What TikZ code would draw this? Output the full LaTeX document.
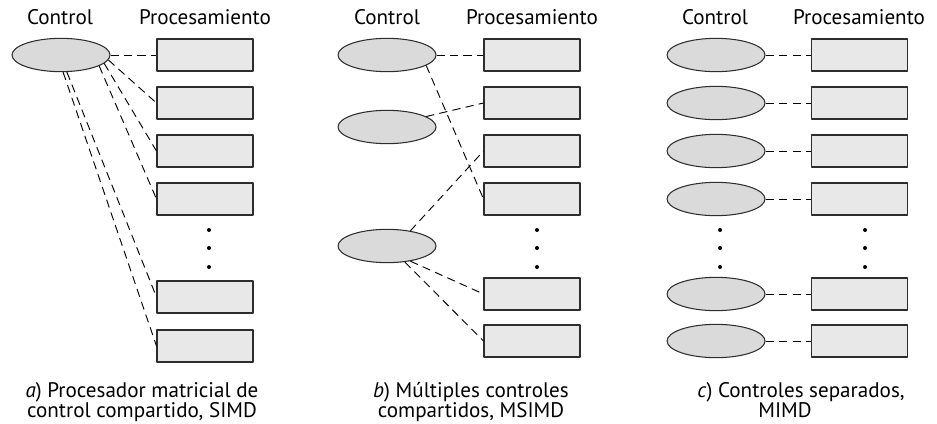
\documentclass[tikz,border=0pt]{standalone}
\usepackage{fontspec}
\setmainfont{PT Sans}
\usetikzlibrary{shapes.geometric}
\definecolor{ctrlgray}{RGB}{218,218,218}
\definecolor{procgray}{RGB}{232,232,232}
\definecolor{edgegray}{RGB}{45,45,45}

\tikzset{
  ctrl/.style={ellipse,draw=edgegray,fill=ctrlgray,line width=0.9pt,
    minimum width=2.94cm,minimum height=1.0cm,inner sep=0pt},
  proc/.style={rectangle,draw=edgegray,fill=procgray,line width=0.9pt,
    minimum width=2.88cm,minimum height=0.96cm,inner sep=0pt},
  link/.style={black,line width=0.8pt,dash pattern=on 7pt off 4.5pt},
  head/.style={font=\fontsize{18}{21}\selectfont,inner sep=0pt},
  capt/.style={align=center,font=\fontsize{18}{17.5}\selectfont,inner sep=0pt,anchor=north}
}

\begin{document}
\begin{tikzpicture}[x=0.03cm,y=-0.03cm,line join=round]
  \useasboundingbox (0,0) rectangle (937,423);
  % --- a) one control, shared by all processors ---
  \begin{scope}
    \node[head] (hca) at (60,17) {Control};
    \node[head] (hpa) at (205,17) {Procesamiento};
    \node[ctrl] (ca) at (61,55) {};
    \node[proc] (pa1) at (205,55) {};
    \node[proc] (pa2) at (205,103) {};
    \node[proc] (pa3) at (205,151) {};
    \node[proc] (pa4) at (205,199) {};
    \node[proc] (pa5) at (205,297) {};
    \node[proc] (pa6) at (205,346) {};
    \fill (209,230) circle (1.7pt) (209,248) circle (1.7pt) (209,267) circle (1.7pt);
    \draw[link] (ca.east) -- (pa1.west);
    \draw[link] (ca.-6) -- (pa2.west);
    \draw[link] (ca.-11) -- (pa3.west);
    \draw[link] (ca.-16) -- (pa4.west);
    \draw[link] (ca.-71) -- (pa5.west);
    \draw[link] (ca.-83) -- (pa6.west);
    \node[capt] (capa) at (142,382) {\textit{a}) Procesador matricial de\\control compartido, SIMD};
  \end{scope}
  % --- b) several controls, each shared ---
  \begin{scope}[xshift=9.78cm]
    \node[head] (hcb) at (61,17) {Control};
    \node[head] (hpb) at (206,17) {Procesamiento};
    \node[ctrl] (cb1) at (61,55) {};
    \node[ctrl] (cb2) at (61,127) {};
    \node[ctrl] (cb3) at (61,246) {};
    \node[proc] (pb1) at (206,55) {};
    \node[proc] (pb2) at (206,103) {};
    \node[proc] (pb3) at (206,151) {};
    \node[proc] (pb4) at (206,199) {};
    \node[proc] (pb5) at (206,294) {};
    \node[proc] (pb6) at (206,341) {};
    \fill (211,230) circle (1.7pt) (211,248) circle (1.7pt) (211,267) circle (1.7pt);
    \draw[link] (cb1.east) -- (pb1.west);
    \draw[link] (cb1.-15) -- (pb4.west);
    \draw[link] (cb2.15) -- (pb2.west);
    \draw[link] (cb3.33) -- (pb3.west);
    \draw[link] (cb3.-33) -- (pb5.west);
    \draw[link] (cb3.-42) -- (pb6.west);
    \node[capt] (capb) at (145,382) {\textit{b}) Múltiples controles\\compartidos, MSIMD};
  \end{scope}
  % --- c) one control per processor ---
  \begin{scope}[xshift=19.65cm]
    \node[head] (hcc) at (60,17) {Control};
    \node[head] (hpc) at (204,17) {Procesamiento};
    \node[ctrl] (cc1) at (61,55) {};
    \node[ctrl] (cc2) at (61,103) {};
    \node[ctrl] (cc3) at (61,151) {};
    \node[ctrl] (cc4) at (61,199) {};
    \node[ctrl] (cc5) at (61,294) {};
    \node[ctrl] (cc6) at (61,341) {};
    \node[proc] (pc1) at (204,55) {};
    \node[proc] (pc2) at (204,103) {};
    \node[proc] (pc3) at (204,151) {};
    \node[proc] (pc4) at (204,199) {};
    \node[proc] (pc5) at (204,294) {};
    \node[proc] (pc6) at (204,341) {};
    \fill (65,230) circle (1.7pt) (65,248) circle (1.7pt) (65,267) circle (1.7pt);
    \fill (210,230) circle (1.7pt) (210,248) circle (1.7pt) (210,267) circle (1.7pt);
    \draw[link] (cc1) -- (pc1);
    \draw[link] (cc2) -- (pc2);
    \draw[link] (cc3) -- (pc3);
    \draw[link] (cc4) -- (pc4);
    \draw[link] (cc5) -- (pc5);
    \draw[link] (cc6) -- (pc6);
    \node[capt] (capc) at (146,382) {\textit{c}) Controles separados,\\MIMD\hspace*{0.96cm}};
  \end{scope}
\end{tikzpicture}
\end{document}
